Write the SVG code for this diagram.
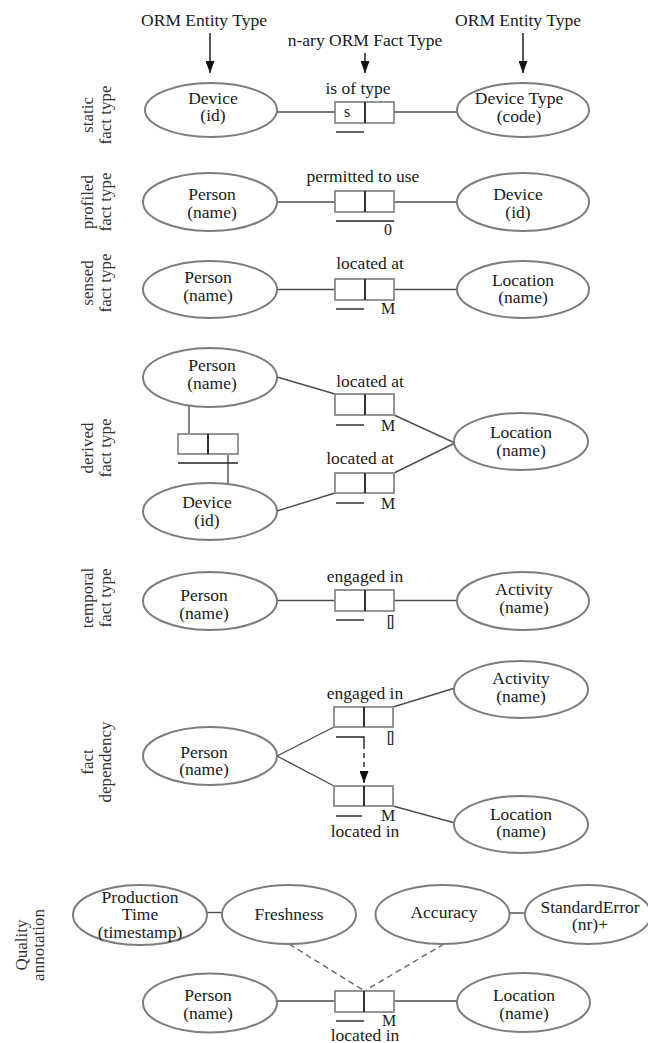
<svg xmlns="http://www.w3.org/2000/svg" width="648" height="1043" viewBox="0 0 648 1043" font-family="'Liberation Serif', 'DejaVu Serif', serif">
<defs>
<marker id="ahd" markerUnits="userSpaceOnUse" markerWidth="12" markerHeight="9" refX="12" refY="4.5" orient="auto" viewBox="0 0 12 9">
<path d="M0,0 L12,4.5 L0,9 z" fill="#111"/>
</marker>
<style>
.e{fill:#fff;stroke:#7d7d7d;stroke-width:2}
.b{fill:#fff;stroke:#8a8a8a;stroke-width:1.8}
.d{stroke:#333;stroke-width:2}
.c{stroke:#4d4d4d;stroke-width:1.4;fill:none}
.u{stroke:#222;stroke-width:1.4;fill:none}
.q{stroke:#666;stroke-width:1.4;stroke-dasharray:6 4;fill:none}
text{font-family:'Liberation Serif','DejaVu Serif',serif;font-size:17.5px;fill:#1a1a1a;text-anchor:middle}
.lb{font-size:17px;fill:#333}
.sm{font-size:16px}
</style>
</defs>

<g id="header">
<text x="204" y="26">ORM Entity Type</text>
<text x="518" y="26">ORM Entity Type</text>
<text x="365" y="46">n-ary ORM Fact Type</text>
</g>

<g id="row-labels">
<text class="lb" transform="translate(93,115) rotate(-90)">static</text>
<text class="lb" transform="translate(111,115) rotate(-90)">fact type</text>
<text class="lb" transform="translate(93,202) rotate(-90)">profiled</text>
<text class="lb" transform="translate(111,202) rotate(-90)">fact type</text>
<text class="lb" transform="translate(93,283) rotate(-90)">sensed</text>
<text class="lb" transform="translate(111,283) rotate(-90)">fact type</text>
<text class="lb" transform="translate(93,448) rotate(-90)">derived</text>
<text class="lb" transform="translate(111,448) rotate(-90)">fact type</text>
<text class="lb" transform="translate(93,598) rotate(-90)">temporal</text>
<text class="lb" transform="translate(111,598) rotate(-90)">fact type</text>
<text class="lb" transform="translate(93,762) rotate(-90)">fact</text>
<text class="lb" transform="translate(111,762) rotate(-90)">dependency</text>
<text class="lb" transform="translate(27,945) rotate(-90)">Quality</text>
<text class="lb" transform="translate(44,945) rotate(-90)">annotation</text>
</g>

<g id="connectors">
<line x1="210" y1="33" x2="210" y2="73" stroke="#111" stroke-width="1.4" marker-end="url(#ahd)"/>
<line x1="365" y1="53" x2="365" y2="73" stroke="#111" stroke-width="1.4" marker-end="url(#ahd)"/>
<line x1="523" y1="33" x2="523" y2="73" stroke="#111" stroke-width="1.4" marker-end="url(#ahd)"/>
<line class="c" x1="277" y1="112" x2="335" y2="112"/>
<line class="c" x1="394" y1="112" x2="457" y2="112"/>
<line class="c" x1="277" y1="202" x2="335" y2="202"/>
<line class="c" x1="394" y1="202" x2="457" y2="202"/>
<line class="c" x1="277" y1="289.5" x2="335" y2="289.5"/>
<line class="c" x1="394" y1="289.5" x2="457" y2="289.5"/>
<line class="c" x1="277" y1="377" x2="335" y2="394"/>
<line class="c" x1="394" y1="415" x2="455" y2="443"/>
<line class="c" x1="277" y1="511" x2="335" y2="493"/>
<line class="c" x1="394" y1="473" x2="455" y2="443"/>
<line class="c" x1="189" y1="405" x2="189" y2="434"/>
<line class="c" x1="228" y1="454" x2="228" y2="484"/>
<line class="c" x1="277" y1="600.5" x2="335" y2="600.5"/>
<line class="c" x1="394" y1="600.5" x2="457" y2="600.5"/>
<line class="c" x1="393" y1="707" x2="455" y2="688"/>
<line class="c" x1="277" y1="756" x2="334" y2="727"/>
<line class="c" x1="277" y1="756" x2="334" y2="786"/>
<line class="c" x1="393" y1="806" x2="455" y2="823"/>
<line x1="364" y1="744" x2="364" y2="783" stroke="#222" stroke-width="1.4" stroke-dasharray="5 4" marker-end="url(#ahd)"/>
<line class="c" x1="207" y1="912.5" x2="222" y2="912.5"/>
<line class="c" x1="509" y1="913" x2="525" y2="913"/>
<line class="q" x1="289" y1="944" x2="363" y2="990"/>
<line class="q" x1="444" y1="944" x2="366" y2="990"/>
<line class="c" x1="277" y1="1001" x2="335" y2="1001"/>
<line class="c" x1="394" y1="1001" x2="457" y2="1001"/>
</g>

<g id="static-device">
<ellipse class="e" cx="211" cy="110" rx="66" ry="27"/>
<text x="213" y="104">Device</text>
<text x="213" y="121">(id)</text>
</g>
<g id="static-fact">
<text x="358" y="94">is of type</text>
<rect class="b" x="335" y="102" width="59" height="21"/>
<line class="d" x1="365" y1="102" x2="365" y2="123"/>
<text x="347" y="117" class="sm">s</text>
<line class="u" x1="336" y1="132" x2="364" y2="132"/>
</g>
<g id="static-devicetype">
<ellipse class="e" cx="523" cy="110" rx="66" ry="27"/>
<text x="519" y="104">Device Type</text>
<text x="519" y="122">(code)</text>
</g>

<g id="profiled-person">
<ellipse class="e" cx="210" cy="202" rx="67" ry="29"/>
<text x="212" y="200">Person</text>
<text x="212" y="218">(name)</text>
</g>
<g id="profiled-fact">
<text x="363" y="182">permitted to use</text>
<rect class="b" x="335" y="191" width="59" height="21"/>
<line class="d" x1="365" y1="191" x2="365" y2="212"/>
<line class="u" x1="336" y1="221" x2="394" y2="221"/>
<text x="388" y="235" class="sm">0</text>
</g>
<g id="profiled-device">
<ellipse class="e" cx="523" cy="202" rx="66" ry="29"/>
<text x="518" y="200">Device</text>
<text x="518" y="218">(id)</text>
</g>

<g id="sensed-person">
<ellipse class="e" cx="210" cy="289.5" rx="67" ry="28.5"/>
<text x="208" y="283">Person</text>
<text x="208" y="301">(name)</text>
</g>
<g id="sensed-fact">
<text x="370" y="269">located at</text>
<rect class="b" x="335" y="279" width="59" height="21"/>
<line class="d" x1="365" y1="279" x2="365" y2="300"/>
<line class="u" x1="336" y1="309" x2="364" y2="309"/>
<text x="388" y="314" class="sm">M</text>
</g>
<g id="sensed-location">
<ellipse class="e" cx="523" cy="289.5" rx="66" ry="28.5"/>
<text x="523" y="286">Location</text>
<text x="523" y="303">(name)</text>
</g>

<g id="derived-person">
<ellipse class="e" cx="210" cy="377.5" rx="67" ry="29.5"/>
<text x="212" y="371">Person</text>
<text x="212" y="389">(name)</text>
</g>
<g id="derived-device">
<ellipse class="e" cx="210" cy="511.5" rx="67" ry="28.5"/>
<text x="207" y="508">Device</text>
<text x="207" y="526">(id)</text>
</g>
<g id="derived-uses">
<rect class="b" x="178" y="434" width="60" height="20"/>
<line class="d" x1="208" y1="434" x2="208" y2="454"/>
<line class="u" x1="178" y1="463" x2="238" y2="463"/>
</g>
<g id="derived-fact-1">
<text x="370" y="387">located at</text>
<rect class="b" x="335" y="394" width="59" height="21"/>
<line class="d" x1="365" y1="394" x2="365" y2="415"/>
<line class="u" x1="336" y1="425" x2="364" y2="425"/>
<text x="388" y="431" class="sm">M</text>
</g>
<g id="derived-fact-2">
<text x="360" y="464">located at</text>
<rect class="b" x="335" y="473" width="59" height="20"/>
<line class="d" x1="365" y1="473" x2="365" y2="493"/>
<line class="u" x1="336" y1="503" x2="364" y2="503"/>
<text x="388" y="509" class="sm">M</text>
</g>
<g id="derived-location">
<ellipse class="e" cx="521" cy="441.5" rx="67" ry="28.5"/>
<text x="521" y="438">Location</text>
<text x="521" y="456">(name)</text>
</g>

<g id="temporal-person">
<ellipse class="e" cx="210" cy="601" rx="67" ry="29"/>
<text x="204" y="601">Person</text>
<text x="204" y="619">(name)</text>
</g>
<g id="temporal-fact">
<text x="365" y="582">engaged in</text>
<rect class="b" x="335" y="590" width="59" height="21"/>
<line class="d" x1="365" y1="590" x2="365" y2="611"/>
<line class="u" x1="336" y1="620" x2="364" y2="620"/>
<text x="389" y="627" class="sm" letter-spacing="-3">[]</text>
</g>
<g id="temporal-activity">
<ellipse class="e" cx="523" cy="601" rx="66" ry="29"/>
<text x="524" y="595">Activity</text>
<text x="524" y="613">(name)</text>
</g>

<g id="dep-activity">
<ellipse class="e" cx="521" cy="689.5" rx="67" ry="28.5"/>
<text x="521" y="684">Activity</text>
<text x="521" y="702">(name)</text>
</g>
<g id="dep-fact-engaged">
<text x="365" y="699">engaged in</text>
<rect class="b" x="334" y="707" width="59" height="20"/>
<line class="d" x1="364" y1="707" x2="364" y2="727"/>
<path class="u" d="M336,737 H364 V744"/>
<text x="389" y="743" class="sm" letter-spacing="-3">[]</text>
</g>
<g id="dep-person">
<ellipse class="e" cx="210" cy="756" rx="67" ry="29"/>
<text x="204" y="758">Person</text>
<text x="204" y="775">(name)</text>
</g>
<g id="dep-fact-located">
<rect class="b" x="334" y="786" width="59" height="20"/>
<line class="d" x1="364" y1="786" x2="364" y2="806"/>
<line class="u" x1="336" y1="816" x2="362" y2="816"/>
<text x="388" y="821" class="sm">M</text>
<text x="365" y="837">located in</text>
</g>
<g id="dep-location">
<ellipse class="e" cx="521" cy="824.5" rx="67" ry="28.5"/>
<text x="521" y="820">Location</text>
<text x="521" y="837">(name)</text>
</g>

<g id="q-productiontime">
<ellipse class="e" cx="140" cy="915" rx="67" ry="30"/>
<text x="140" y="903">Production</text>
<text x="140" y="920">Time</text>
<text x="140" y="938">(timestamp)</text>
</g>
<g id="q-freshness">
<ellipse class="e" cx="289" cy="914.5" rx="67" ry="29.5"/>
<text x="289" y="920">Freshness</text>
</g>
<g id="q-accuracy">
<ellipse class="e" cx="442.5" cy="914.5" rx="67" ry="29.5"/>
<text x="444" y="918">Accuracy</text>
</g>
<g id="q-standarderror">
<ellipse class="e" cx="588" cy="914.5" rx="63" ry="29.5"/>
<text x="590" y="913">StandardError</text>
<text x="590" y="930">(nr)+</text>
</g>
<g id="q-person">
<ellipse class="e" cx="210" cy="1003" rx="67" ry="29.5"/>
<text x="208" y="1001">Person</text>
<text x="208" y="1019">(name)</text>
</g>
<g id="q-fact">
<rect class="b" x="335" y="991" width="59" height="21"/>
<line class="d" x1="364" y1="991" x2="364" y2="1012"/>
<line class="u" x1="336" y1="1021" x2="364" y2="1021"/>
<text x="389" y="1026" class="sm">M</text>
<text x="365" y="1041">located in</text>
</g>
<g id="q-location">
<ellipse class="e" cx="523.5" cy="1002.5" rx="66.5" ry="29.5"/>
<text x="524" y="1001">Location</text>
<text x="524" y="1019">(name)</text>
</g>
</svg>
